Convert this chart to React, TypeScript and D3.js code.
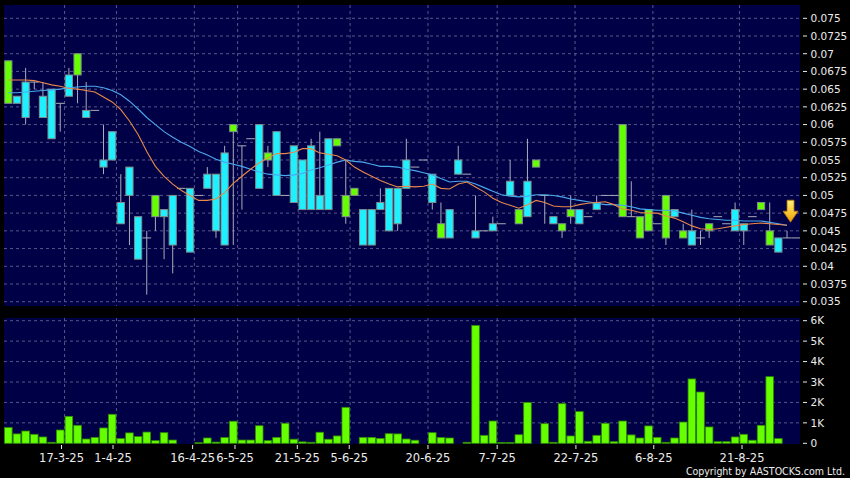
import React from "react";
import * as d3 from "d3";

// ---- data ----
const opens = [
  0.063, 0.064, 0.066, 0.066, 0.064, 0.065, 0.063, 0.067, 0.067, 0.062,
  0.062, 0.055, 0.059, 0.049, 0.054, 0.047, 0.044, 0.047, 0.048, 0.050,
  0.051, 0.051, 0.050, 0.053, 0.053, 0.056, 0.059, 0.057, 0.058, 0.060,
  0.055, 0.059, 0.050, 0.057, 0.055, 0.057, 0.050, 0.058, 0.057, 0.047,
  0.050, 0.048, 0.048, 0.049, 0.051, 0.051, 0.055, 0.054, 0.055, 0.053,
  0.044, 0.048, 0.055, 0.053, 0.045, 0.045, 0.046, 0.046, 0.052, 0.046,
  0.052, 0.054, 0.050, 0.047, 0.045, 0.047, 0.048, 0.047, 0.049, 0.050,
  0.050, 0.047, 0.047, 0.044, 0.045, 0.046, 0.044, 0.048, 0.044, 0.045,
  0.044, 0.045, 0.047, 0.046, 0.048, 0.046, 0.047, 0.048, 0.043, 0.044,
  0.044, 0.044,
];
const highs = [
  0.069, 0.064, 0.068, 0.066, 0.066, 0.065, 0.063, 0.068, 0.070, 0.066,
  0.062, 0.060, 0.059, 0.053, 0.054, 0.047, 0.045, 0.050, 0.048, 0.050,
  0.051, 0.051, 0.050, 0.054, 0.053, 0.057, 0.060, 0.057, 0.058, 0.060,
  0.057, 0.059, 0.050, 0.057, 0.055, 0.058, 0.059, 0.058, 0.058, 0.055,
  0.051, 0.048, 0.048, 0.051, 0.051, 0.051, 0.058, 0.054, 0.055, 0.053,
  0.049, 0.048, 0.057, 0.053, 0.050, 0.045, 0.047, 0.046, 0.055, 0.048,
  0.058, 0.055, 0.050, 0.047, 0.046, 0.050, 0.048, 0.047, 0.050, 0.050,
  0.050, 0.060, 0.052, 0.047, 0.048, 0.046, 0.050, 0.048, 0.046, 0.048,
  0.045, 0.046, 0.047, 0.046, 0.049, 0.046, 0.047, 0.049, 0.049, 0.044,
  0.045, 0.044,
];
const lows = [
  0.063, 0.063, 0.060, 0.065, 0.061, 0.058, 0.059, 0.064, 0.063, 0.061,
  0.062, 0.053, 0.055, 0.046, 0.043, 0.041, 0.036, 0.045, 0.041, 0.039,
  0.051, 0.042, 0.050, 0.051, 0.044, 0.043, 0.043, 0.048, 0.058, 0.051,
  0.054, 0.050, 0.050, 0.049, 0.048, 0.048, 0.048, 0.048, 0.057, 0.046,
  0.050, 0.043, 0.043, 0.048, 0.045, 0.045, 0.051, 0.054, 0.055, 0.048,
  0.044, 0.044, 0.053, 0.053, 0.044, 0.045, 0.045, 0.046, 0.050, 0.046,
  0.047, 0.054, 0.046, 0.046, 0.044, 0.046, 0.046, 0.047, 0.048, 0.050,
  0.050, 0.047, 0.047, 0.044, 0.045, 0.046, 0.043, 0.047, 0.044, 0.043,
  0.043, 0.044, 0.047, 0.046, 0.045, 0.043, 0.047, 0.048, 0.043, 0.042,
  0.044, 0.044,
];
const closes = [
  0.069, 0.063, 0.061, 0.066, 0.061, 0.058, 0.063, 0.064, 0.070, 0.061,
  0.062, 0.054, 0.055, 0.046, 0.050, 0.041, 0.044, 0.050, 0.047, 0.043,
  0.051, 0.042, 0.050, 0.051, 0.045, 0.043, 0.060, 0.057, 0.058, 0.051,
  0.056, 0.050, 0.050, 0.049, 0.048, 0.048, 0.048, 0.048, 0.058, 0.050,
  0.051, 0.043, 0.043, 0.048, 0.045, 0.046, 0.051, 0.054, 0.055, 0.049,
  0.046, 0.044, 0.053, 0.053, 0.044, 0.045, 0.045, 0.046, 0.050, 0.048,
  0.047, 0.055, 0.050, 0.046, 0.046, 0.048, 0.046, 0.047, 0.048, 0.050,
  0.050, 0.060, 0.047, 0.047, 0.048, 0.046, 0.050, 0.047, 0.045, 0.043,
  0.044, 0.046, 0.047, 0.046, 0.045, 0.045, 0.047, 0.049, 0.045, 0.042,
  0.044, 0.044,
];
const volumes = [
  770, 460, 600, 440, 310, 50, 650, 1320, 880, 210,
  290, 750, 1420, 230, 510, 330, 550, 130, 520, 160,
  0, 0, 30, 260, 60, 280, 1080, 160, 160, 860,
  130, 290, 980, 200, 70, 50, 540, 200, 360, 1760,
  0, 290, 290, 240, 470, 460, 210, 150, 0, 520,
  280, 260, 0, 50, 5770, 390, 1090, 40, 40, 420,
  2000, 0, 960, 50, 1940, 360, 1550, 100, 390, 980,
  80, 1090, 410, 260, 850, 290, 50, 260, 1040, 3150,
  2510, 800, 80, 80, 310, 440, 150, 880, 3260, 230,
  0, 0,
];
const maShort = [
  0.0663, 0.0663, 0.0663, 0.0662, 0.0659, 0.0656, 0.0654, 0.0651, 0.0650, 0.0648,
  0.0646, 0.0639, 0.0632, 0.0621, 0.0605, 0.0586, 0.0562, 0.0541, 0.0527, 0.0516,
  0.0507, 0.0500, 0.0493, 0.0493, 0.0495, 0.0504, 0.0517, 0.0527, 0.0537, 0.0546,
  0.0553, 0.0559, 0.0559, 0.0561, 0.0566, 0.0566, 0.0560, 0.0558, 0.0556, 0.0550,
  0.0540, 0.0533, 0.0527, 0.0521, 0.0516, 0.0512, 0.0513, 0.0512, 0.0513, 0.0516,
  0.0510, 0.0509, 0.0516, 0.0519, 0.0512, 0.0505, 0.0496, 0.0490, 0.0486, 0.0482,
  0.0487, 0.0493, 0.0490, 0.0485, 0.0484, 0.0484, 0.0487, 0.0489, 0.0490, 0.0491,
  0.0487, 0.0481, 0.0479, 0.0476, 0.0475, 0.0475, 0.0471, 0.0468, 0.0463, 0.0457,
  0.0453, 0.0452, 0.0453, 0.0455, 0.0457, 0.0459, 0.0460, 0.0461, 0.0460, 0.0459,
  0.0458,
];
const maLong = [
  0.0645, 0.0645, 0.0646, 0.0647, 0.0648, 0.0649, 0.0650, 0.0652, 0.0653, 0.0654,
  0.0654, 0.0652, 0.0648, 0.0642, 0.0633, 0.0622, 0.0610, 0.0600, 0.0590, 0.0582,
  0.0575, 0.0569, 0.0562, 0.0557, 0.0551, 0.0547, 0.0544, 0.0541, 0.0537, 0.0533,
  0.0530, 0.0529, 0.0528, 0.0529, 0.0531, 0.0536, 0.0539, 0.0543, 0.0547, 0.0550,
  0.0548, 0.0547, 0.0544, 0.0541, 0.0541, 0.0540, 0.0537, 0.0535, 0.0532, 0.0529,
  0.0524, 0.0519, 0.0520, 0.0520, 0.0516, 0.0511, 0.0506, 0.0501, 0.0499, 0.0498,
  0.0499, 0.0501, 0.0501, 0.0500, 0.0498, 0.0495, 0.0493, 0.0491, 0.0489, 0.0487,
  0.0487, 0.0486, 0.0484, 0.0481, 0.0480, 0.0479, 0.0479, 0.0478, 0.0475, 0.0472,
  0.0469, 0.0467, 0.0466, 0.0465, 0.0465, 0.0464, 0.0464, 0.0464, 0.0462, 0.0460,
  0.0458,
];
const dateLabels = ["17-3-25", "1-4-25", "16-4-25", "6-5-25", "21-5-25", "5-6-25", "20-6-25", "7-7-25", "22-7-25", "6-8-25", "21-8-25"];
const dateTickPos = [6.15, 12.1, 21.3, 26.2, 33.4, 39.4, 48.5, 56.5, 65.6, 74.6, 84.8];
const gridAfterIdx = [6, 12, 21, 26, 33, 39, 48, 56, 65, 74, 84];
const priceTicks = [0.035, 0.0375, 0.04, 0.0425, 0.045, 0.0475, 0.05, 0.0525, 0.055, 0.0575, 0.06, 0.0625, 0.065, 0.0675, 0.07, 0.0725, 0.075];
const volTicks = [0, 1000, 2000, 3000, 4000, 5000, 6000];
const volTickLabels = ["0", "1K", "2K", "3K", "4K", "5K", "6K"];

const GREEN = "#66ff00";
const CYAN = "#1ff0ff";
const NAVY = "#000046";
const GRID = "#56568a";
const WICK = "#a9acb8";
const TEXT = "#ececec";
const FONT = "'DejaVu Sans', sans-serif";

export default function App() {
  const n = opens.length;
  const x = d3.scaleLinear().domain([-0.5, n - 0.5]).range([4, 800]);
  const bw = x(1) - x(0);
  const y = d3.scaleLinear().domain([0.035, 0.075]).range([301.7, 18.3]);
  const yv = d3.scaleLinear().domain([0, 6000]).range([443.3, 320.7]);

  const line = d3
    .line<number>()
    .x((_, i) => x(i))
    .y((d) => y(d));

  const bodyW = 7.2;
  const volW = 7.6;

  const arrowX = x(maLong.length - 1) + 3.5;
  const arrowTip = y(maLong[maLong.length - 1]) - 3;
  const arrowTop = arrowTip - 22;

  return (
    <svg
      width={850}
      height={478}
      style={{ position: "fixed", left: 0, top: 0, display: "block" }}
      fontFamily={FONT}
    >
      <defs>
        <linearGradient id="arrowGrad" x1="0" y1="0" x2="0" y2="1">
          <stop offset="0%" stopColor="#fff27a" />
          <stop offset="100%" stopColor="#f0a000" />
        </linearGradient>
      </defs>
      <rect x={0} y={0} width={850} height={478} fill="#000" />
      {/* panels */}
      <rect x={4} y={5} width={796} height={301} fill={NAVY} />
      <rect x={4} y={318} width={796} height={126} fill={NAVY} />

      {/* horizontal grid */}
      {priceTicks.map((p) => (
        <line key={"hp" + p} x1={4} x2={800} y1={y(p)} y2={y(p)} stroke={GRID} strokeDasharray="3,3" strokeWidth={1} />
      ))}
      {volTicks.filter((v) => v > 0).map((v) => (
        <line key={"hv" + v} x1={4} x2={800} y1={yv(v)} y2={yv(v)} stroke={GRID} strokeDasharray="3,3" strokeWidth={1} />
      ))}
      {/* vertical grid */}
      {gridAfterIdx.map((i) => (
        <g key={"vg" + i}>
          <line x1={x(i + 0.5)} x2={x(i + 0.5)} y1={5} y2={306} stroke={GRID} strokeDasharray="3,3" />
          <line x1={x(i + 0.5)} x2={x(i + 0.5)} y1={318} y2={444} stroke={GRID} strokeDasharray="3,3" />
        </g>
      ))}

      {/* candles */}
      {opens.map((o, i) => {
        const c = closes[i];
        const h = highs[i];
        const l = lows[i];
        const cx = x(i);
        const wick = h > l ? (
          <line x1={cx} x2={cx} y1={y(h)} y2={y(l)} stroke={WICK} strokeWidth={1} />
        ) : null;
        if (o === c) {
          return (
            <g key={"c" + i}>
              {wick}
              <line x1={cx - bw / 2} x2={cx + bw / 2} y1={y(o)} y2={y(o)} stroke={WICK} strokeWidth={1} />
            </g>
          );
        }
        const top = y(Math.max(o, c));
        const bot = y(Math.min(o, c));
        return (
          <g key={"c" + i}>
            {wick}
            <rect
              x={cx - bodyW / 2}
              y={top}
              width={bodyW}
              height={bot - top}
              fill={c > o ? GREEN : CYAN}
              stroke="#7d8c8c"
              strokeWidth={1}
            />
          </g>
        );
      })}

      {/* moving averages */}
      <path d={line(maLong) || ""} fill="none" stroke="#4aa8ee" strokeWidth={1.1} />
      <path d={line(maShort) || ""} fill="none" stroke="#e8894a" strokeWidth={1.1} />

      {/* arrow marker */}
      <path
        d={`M${arrowX - 3.5},${arrowTop} L${arrowX + 3.5},${arrowTop} L${arrowX + 3.5},${arrowTop + 11} L${arrowX + 7.5},${arrowTop + 11} L${arrowX},${arrowTip} L${arrowX - 7.5},${arrowTop + 11} L${arrowX - 3.5},${arrowTop + 11} Z`}
        fill="url(#arrowGrad)"
        stroke="#b37400"
        strokeWidth={0.8}
      />

      {/* volume bars */}
      {volumes.map((v, i) => {
        if (v <= 0) return null;
        const top = yv(v);
        return (
          <rect
            key={"v" + i}
            x={x(i) - volW / 2}
            y={top}
            width={volW}
            height={Math.max(yv(0) - top, 0.8)}
            fill={GREEN}
            stroke="#2f8a00"
            strokeWidth={0.8}
          />
        );
      })}

      {/* price axis */}
      {priceTicks.map((p) => (
        <g key={"pt" + p}>
          <line x1={803} x2={807} y1={y(p)} y2={y(p)} stroke={TEXT} strokeWidth={1} />
          <text x={810.5} y={y(p)} dy="0.36em" fontSize={10.5} fill={TEXT}>
            {String(Number(p.toFixed(4)))}
          </text>
        </g>
      ))}
      {/* volume axis */}
      {volTicks.map((v, k) => (
        <g key={"vt" + v}>
          <line x1={803} x2={807} y1={yv(v)} y2={yv(v)} stroke={TEXT} strokeWidth={1} />
          <text x={810.5} y={yv(v)} dy="0.36em" fontSize={10.5} fill={TEXT}>
            {volTickLabels[k]}
          </text>
        </g>
      ))}

      {/* date axis */}
      {dateLabels.map((lab, k) => (
        <g key={"d" + lab}>
          <line x1={x(dateTickPos[k])} x2={x(dateTickPos[k])} y1={445} y2={449} stroke={TEXT} strokeWidth={1} />
          <text x={x(dateTickPos[k])} y={461.5} textAnchor="middle" fontSize={11.5} fill={TEXT}>
            {lab}
          </text>
        </g>
      ))}

      <text
        x={845}
        y={475}
        textAnchor="end"
        fontSize={10.5}
        fill={TEXT}
        style={{ fontFamily: "'DejaVu Sans Condensed', 'DejaVu Sans', sans-serif", fontStretch: "condensed" }}
      >
        Copyright by AASTOCKS.com Ltd.
      </text>
    </svg>
  );
}
